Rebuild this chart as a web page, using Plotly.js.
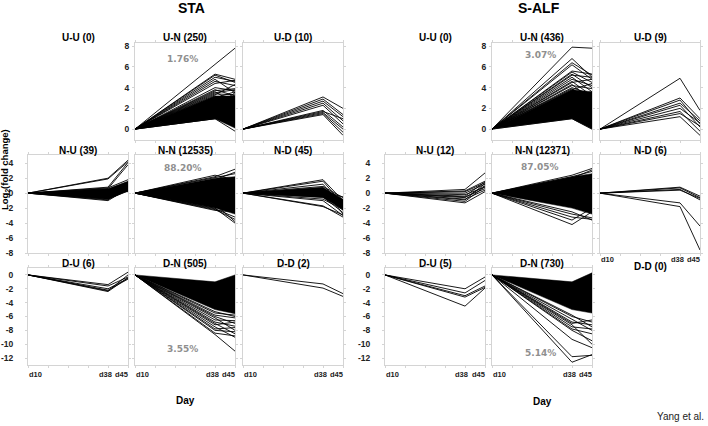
<!DOCTYPE html>
<html>
<head>
<meta charset="utf-8">
<script src="https://cdn.plot.ly/plotly-3.0.1.min.js"></script>
<style>
  body { margin: 0; background: #fff; }
  #chart { width: 708px; height: 426px; }
</style>
</head>
<body>
<div id="chart"></div>
<script>
// days and tick labels
const days = [10, 38, 45];
const weekTicks = [10, 17, 24, 31, 38, 45];
const dayLabels = ['d10', 'd38', 'd45'];
const startValue = 0; // every profile is relative to d10
const rowTicks = [[0, 2, 4, 6, 8], [4, 2, 0, -2, -4, -6, -8], [0, -2, -4, -6, -8, -10, -12]];
const rowRanges = [[-1.05, 8.3], [-8, 5.1], [-13, 1]];

// STA  (log2 fold change at d38 / d45, one entry per drawn profile)
const staUN38 = [6.2, 5.3, 5.2, 5.0, 4.8, 4.6, 4.4, 4.0, 3.8, 3.7, 3.6, 3.5, 3.4, 3.3, 3.2, 3.0, 2.8, 2.6, 2.5, 2.2, 2.0, 1.5, 1.2, 1.0, 1.0];
const staUN45 = [7.8, 4.8, 4.5, 4.6, 3.5, 4.2, 4.7, 3.7, 3.2, 3.9, 2.5, 3.8, 3.3, 4.3, 2.0, 3.6, 1.5, 2.9, 0.5, 3.5, 1.8, 2.6, 0.2, -0.2, 1.5];
const staUNband38 = [1.0, 3.2];
const staUNband45 = [0.1, 3.2];

const staUD38 = [3.1, 2.9, 2.7, 2.5, 2.3, 1.8, 1.7, 1.6, 1.5, 1.4];
const staUD45 = [2.0, 1.4, 1.2, 0.8, 0.5, 0.2, 1.0, 0.0, -0.3, -0.6];

const staNU38 = [2.0, 1.9, 0.8, 0.6, 0.7, 0.5, 0.3, 0.0, -0.3, -0.5, -0.8, -1.0, -0.9, 0.2];
const staNU45 = [4.4, 4.2, 4.1, 3.8, 1.8, 1.5, 1.2, 1.0, 0.8, 0.5, 0.3, 0.6, 1.2, 0.2];
const staNUband38 = [-0.8, 0.6];
const staNUband45 = [0.3, 1.6];

const staNN38 = [2.4, 2.2, 2.0, 1.8, -2.2, -2.0, -2.1, -1.5, -2.3];
const staNN45 = [1.8, 3.2, 2.6, 2.8, -3.5, -4.0, -3.2, -3.8, -2.5];
const staNNband38 = [-2.0, 2.0];
const staNNband45 = [-2.8, 2.2];

const staND38 = [1.8, 1.6, 1.2, 0.9, 0.7, 0.5, 0.3, 0.0, -0.3, -0.5, -0.8, -1.0, -1.7, -1.8, 0.2];
const staND45 = [-1.0, -1.5, -2.0, -0.6, -2.8, -1.2, -2.3, -1.8, -1.0, -2.6, -2.2, -3.0, -3.2, -2.9, -0.5];
const staNDband38 = [-0.6, 0.8];
const staNDband45 = [-2.2, -0.8];

const staDU38 = [-1.4, -1.6, -2.0, -2.2, -2.3, -2.4];
const staDU45 = [0.4, -0.3, -0.5, -0.6, 0.0, -0.4];

const staDN38 = [-8.6, -8.4, -8.0, -7.8, -7.5, -7.2, -7.0, -6.8, -6.5, -6.2, -6.0, -5.8, -5.5, -5.3];
const staDN45 = [-11.0, -8.8, -8.2, -7.6, -9.0, -6.8, -8.5, -7.4, -6.6, -8.0, -7.0, -6.2, -5.8, -6.0];
const staDNband38 = [-5.0, -1.0];
const staDNband45 = [-5.6, 0.0];

const staDD38 = [-1.3, -1.9];
const staDD45 = [-2.7, -3.1];

// S-ALF
const salfUN38 = [7.9, 6.8, 6.4, 6.2, 5.6, 5.5, 5.3, 5.2, 5.0, 4.8, 4.6, 4.5, 4.3, 4.2, 4.0, 3.9, 3.8, 1.0];
const salfUN45 = [7.8, 5.0, 5.2, 4.8, 5.3, 4.5, 4.0, 5.0, 3.6, 4.2, 3.2, 4.8, 2.8, 3.9, 3.3, 2.5, 4.4, 0.0];
const salfUNband38 = [1.0, 3.8];
const salfUNband45 = [0.0, 3.6];

const salfUD38 = [4.9, 3.0, 2.8, 2.5, 2.3, 2.0, 1.7, 1.5, 1.2];
const salfUD45 = [1.8, 1.0, 0.5, 0.8, 0.2, 0.6, -0.2, 0.3, -0.6];

const salfNU38 = [0.5, 0.3, 0.2, 0.0, -0.2, -0.4, -0.5, -0.6, -0.8, -0.9, -1.1, -1.3];
const salfNU45 = [2.7, 1.6, 1.4, 1.2, 0.8, 1.5, 0.6, 1.0, 0.4, 1.3, 0.9, 0.2];

const salfNN38 = [-4.2, -3.6, -3.2, -2.8, -2.5, 2.4, 2.2, 2.0];
const salfNN45 = [-2.5, -2.0, -3.5, -3.3, -3.6, 3.3, 2.9, 3.1];
const salfNNband38 = [-2.0, 2.2];
const salfNNband45 = [-2.8, 2.6];

const salfND38 = [0.8, 0.7, 0.5, 0.4, -1.3, -1.8];
const salfND45 = [-0.4, -0.6, -0.9, -0.7, -4.4, -7.6];

const salfDU38 = [-2.0, -2.6, -3.0, -3.2, -4.5];
const salfDU45 = [-0.3, -0.8, -1.6, -1.8, -1.9];

const salfDN38 = [-12.6, -11.8, -9.3, -8.0, -7.8, -7.5, -7.2, -7.0, -6.8, -6.5, -6.0, -5.8];
const salfDN45 = [-11.5, -11.6, -10.5, -9.5, -8.5, -7.8, -10.0, -6.5, -7.2, -8.0, -6.8, -7.5];
const salfDNband38 = [-5.0, -1.0];
const salfDNband45 = [-5.5, 0.3];

// panel geometry (pixels of the 708x426 figure)
const W = 708, H = 426;
const colPx = [
    [[28, 128], [135, 235], [243, 343]],
    [[385, 485], [492, 592], [600, 700]]
];
const rowPx = [[43, 140], [155, 253], [268, 365]];

const panels = [
    { g: 0, r: 0, c: 1, title: 'U-N (250)', d38: staUN38, d45: staUN45, b38: staUNband38, b45: staUNband45, pct: '1.76%', pctY: 59, yLabels: 1 },
    { g: 0, r: 0, c: 2, title: 'U-D (10)', d38: staUD38, d45: staUD45 },
    { g: 0, r: 1, c: 0, title: 'N-U (39)', d38: staNU38, d45: staNU45, b38: staNUband38, b45: staNUband45, yLabels: 10 },
    { g: 0, r: 1, c: 1, title: 'N-N (12535)', d38: staNN38, d45: staNN45, b38: staNNband38, b45: staNNband45, pct: '88.20%', pctY: 168 },
    { g: 0, r: 1, c: 2, title: 'N-D (45)', d38: staND38, d45: staND45, b38: staNDband38, b45: staNDband45 },
    { g: 0, r: 2, c: 0, title: 'D-U (6)', d38: staDU38, d45: staDU45, yLabels: 10, xLabels: true },
    { g: 0, r: 2, c: 1, title: 'D-N (505)', d38: staDN38, d45: staDN45, b38: staDNband38, b45: staDNband45, pct: '3.55%', pctY: 349, xLabels: true },
    { g: 0, r: 2, c: 2, title: 'D-D (2)', d38: staDD38, d45: staDD45, xLabels: true },
    { g: 1, r: 0, c: 1, title: 'U-N (436)', d38: salfUN38, d45: salfUN45, b38: salfUNband38, b45: salfUNband45, pct: '3.07%', pctY: 55, yLabels: 1 },
    { g: 1, r: 0, c: 2, title: 'U-D (9)', d38: salfUD38, d45: salfUD45 },
    { g: 1, r: 1, c: 0, title: 'N-U (12)', d38: salfNU38, d45: salfNU45, yLabels: 10 },
    { g: 1, r: 1, c: 1, title: 'N-N (12371)', d38: salfNN38, d45: salfNN45, b38: salfNNband38, b45: salfNNband45, pct: '87.05%', pctY: 167 },
    { g: 1, r: 1, c: 2, title: 'N-D (6)', d38: salfND38, d45: salfND45, xLabels: true, xLabelGap: 6 },
    { g: 1, r: 2, c: 0, title: 'D-U (5)', d38: salfDU38, d45: salfDU45, yLabels: 10, xLabels: true },
    { g: 1, r: 2, c: 1, title: 'D-N (730)', d38: salfDN38, d45: salfDN45, b38: salfDNband38, b45: salfDNband45, pct: '5.14%', pctY: 353, xLabels: true }
];

// empty panels: title only
const emptyPanels = [
    { g: 0, r: 0, c: 0, title: 'U-U (0)' },
    { g: 1, r: 0, c: 0, title: 'U-U (0)' },
    { g: 1, r: 2, c: 2, title: 'D-D (0)', dy: 3 }
];

const titleFont = { family: 'Liberation Sans, Arial, sans-serif', size: 10, color: '#000' };
const tickFont = { family: 'Liberation Sans, Arial, sans-serif', size: 8.5, color: '#222' };
const dayFont = { family: 'Liberation Sans, Arial, sans-serif', size: 7.5, color: '#222' };
const boxColor = '#d4d4d4';

const px = v => v / W;
const py = v => 1 - v / H;
const bold = t => '<b>' + t + '</b>';

var traces = [];
var layout = {
    width: W,
    height: H,
    margin: { l: 0, r: 0, t: 0, b: 0 },
    paper_bgcolor: '#fff',
    plot_bgcolor: '#fff',
    showlegend: false,
    annotations: [],
    font: titleFont
};

function titleAnnot(p) {
    const cx = (colPx[p.g][p.c][0] + colPx[p.g][p.c][1]) / 2;
    const y = rowPx[p.r][0] - 5 + (p.dy || 0);
    return {
        xref: 'paper', yref: 'paper', x: px(cx), y: py(y),
        xanchor: 'center', yanchor: 'middle', showarrow: false,
        text: bold(p.title), font: titleFont
    };
}

panels.forEach((p, i) => {
    const n = i === 0 ? '' : String(i + 1);
    const xa = 'x' + n, ya = 'y' + n;
    const cols = colPx[p.g][p.c];
    const rows = rowPx[p.r];

    layout['xaxis' + n] = {
        domain: [px(cols[0]), px(cols[1])],
        anchor: ya,
        range: [days[0], days[2]],
        tickvals: weekTicks,
        showticklabels: false,
        ticks: 'outside', ticklen: 2, tickcolor: boxColor,
        showline: true, linecolor: boxColor, linewidth: 1, mirror: 'ticks',
        showgrid: false, zeroline: false, fixedrange: true
    };
    layout['yaxis' + n] = {
        domain: [py(rows[1]), py(rows[0])],
        anchor: xa,
        range: rowRanges[p.r],
        tickvals: rowTicks[p.r],
        ticktext: rowTicks[p.r].map(bold),
        showticklabels: !!p.yLabels,
        ticklabelstandoff: p.yLabels || 0,
        tickfont: tickFont,
        ticks: 'outside', ticklen: 2, tickcolor: boxColor,
        showline: true, linecolor: boxColor, linewidth: 1, mirror: 'ticks',
        showgrid: false, zeroline: false, fixedrange: true
    };

    if (p.b38) {
        traces.push({
            type: 'scatter', mode: 'lines', xaxis: xa, yaxis: ya,
            x: [days[0], days[1], days[2], days[2], days[1], days[0]],
            y: [startValue, p.b38[1], p.b45[1], p.b45[0], p.b38[0], startValue],
            fill: 'toself', fillcolor: '#000',
            line: { color: '#000', width: 0.5 }, hoverinfo: 'skip'
        });
    }

    var lx = [], ly = [];
    for (let k = 0; k < p.d38.length; k++) {
        lx.push(days[0], days[1], days[2], null);
        ly.push(startValue, p.d38[k], p.d45[k], null);
    }
    traces.push({
        type: 'scatter', mode: 'lines', xaxis: xa, yaxis: ya,
        x: lx, y: ly, connectgaps: false,
        line: { color: '#000', width: 0.9 }, hoverinfo: 'skip'
    });

    layout.annotations.push(titleAnnot(p));

    if (p.pct) {
        layout.annotations.push({
            xref: 'paper', yref: 'paper',
            x: px((cols[0] + cols[1]) / 2 - 2), y: py(p.pctY),
            xanchor: 'center', yanchor: 'middle', showarrow: false,
            text: bold(p.pct),
            font: { family: 'DejaVu Sans, Verdana, sans-serif', size: 9, color: '#8f8f8f' }
        });
    }

    if (p.xLabels) {
        const anchors = ['left', 'center', 'right'];
        const shifts = [0, -3, 1];
        dayLabels.forEach((t, k) => {
            layout.annotations.push({
                xref: xa, yref: 'paper', x: days[k], xshift: shifts[k],
                y: py(rows[1] + (p.xLabelGap || 9)),
                xanchor: anchors[k], yanchor: 'middle', showarrow: false,
                borderpad: 0, text: bold(t), font: dayFont
            });
        });
    }
});

emptyPanels.forEach(p => layout.annotations.push(titleAnnot(p)));

// group titles, axis titles, credit
const bigFont = { family: 'Liberation Sans, Arial, sans-serif', size: 14, color: '#000' };
layout.annotations.push(
    { xref: 'paper', yref: 'paper', x: px(191), y: py(8), showarrow: false, xanchor: 'center', yanchor: 'middle', text: bold('STA'), font: bigFont },
    { xref: 'paper', yref: 'paper', x: px(539), y: py(8), showarrow: false, xanchor: 'center', yanchor: 'middle', text: bold('S-ALF'), font: bigFont },
    { xref: 'paper', yref: 'paper', x: px(5), y: py(170), showarrow: false, xanchor: 'center', yanchor: 'middle', textangle: -90, text: bold('Log<sub>2</sub>(fold change)'), font: { family: 'Liberation Sans, Arial, sans-serif', size: 9.5, color: '#000' } },
    { xref: 'paper', yref: 'paper', x: px(185), y: py(400), showarrow: false, xanchor: 'center', yanchor: 'middle', text: bold('Day'), font: titleFont },
    { xref: 'paper', yref: 'paper', x: px(542), y: py(401), showarrow: false, xanchor: 'center', yanchor: 'middle', text: bold('Day'), font: titleFont },
    { xref: 'paper', yref: 'paper', x: px(706), y: py(416), showarrow: false, xanchor: 'right', yanchor: 'middle', text: 'Yang et al.', font: { family: 'Liberation Sans, Arial, sans-serif', size: 10, color: '#222' } }
);

Plotly.newPlot('chart', traces, layout, { displayModeBar: false, staticPlot: true });
</script>
</body>
</html>
